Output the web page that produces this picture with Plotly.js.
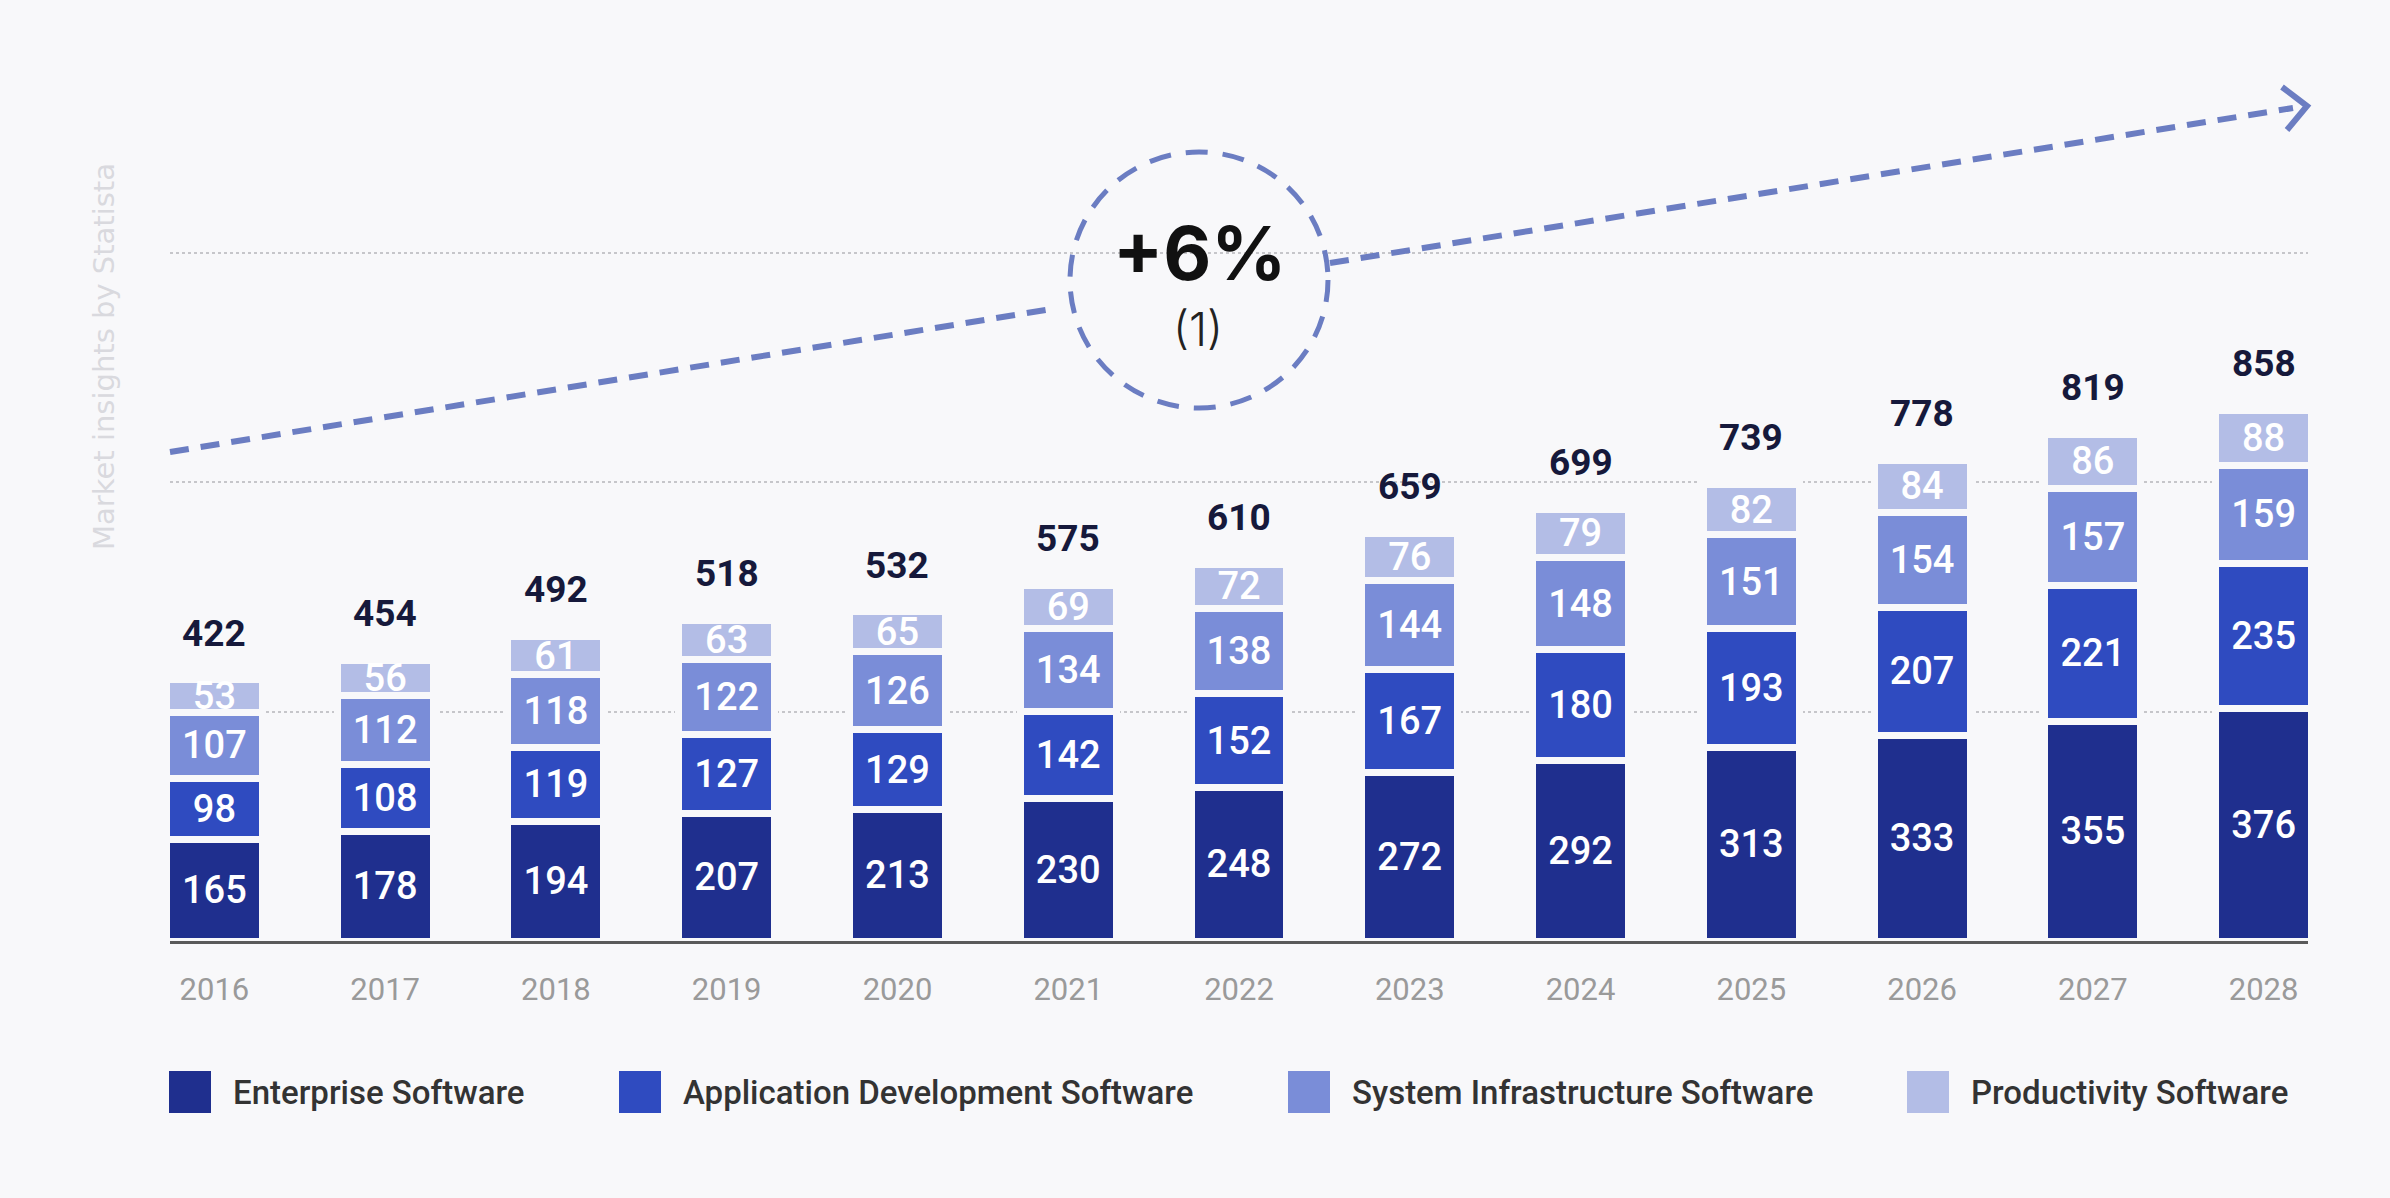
<!DOCTYPE html>
<html>
<head>
<meta charset="utf-8">
<script src="https://cdn.plot.ly/plotly-3.0.1.min.js"></script>
<style>
  html, body { margin: 0; padding: 0; background: #f8f8fa; }
  #chart { width: 2390px; height: 1198px; }
</style>
</head>
<body>
<div id="chart"></div>
<script>
// ---- data ----
const years = ["2016","2017","2018","2019","2020","2021","2022","2023","2024","2025","2026","2027","2028"];
const enterprise   = [165,178,194,207,213,230,248,272,292,313,333,355,376];
const appDev       = [ 98,108,119,127,129,142,152,167,180,193,207,221,235];
const sysInfra     = [107,112,118,122,126,134,138,144,148,151,154,157,159];
const productivity = [ 53, 56, 61, 63, 65, 69, 72, 76, 79, 82, 84, 86, 88];
const totals       = [422,454,492,518,532,575,610,659,699,739,778,819,858];
const seriesNames  = ["Enterprise Software","Application Development Software","System Infrastructure Software","Productivity Software"];
const gridValues   = [371, 742, 1113];
const cagrText     = "+6%";
const cagrNote     = "(1)";
const watermark    = "Market insights by Statista";

// ---- styles ----
const colors = ["#1f2f8e", "#2f4bc0", "#7a8dd8", "#b3bde6"];
const bg = "#f8f8fa";
const W = 2390, H = 1198;
const M = {l: 170, r: 82, t: 41, b: 257};
const plotW = W - M.l - M.r, plotH = H - M.t - M.b;
const px = x => (x - M.l) / plotW;
const py = y => (H - M.b - y) / plotH;

const seriesVals = [enterprise, appDev, sysInfra, productivity];
const traces = seriesVals.map((vals, i) => ({
  type: "bar",
  name: seriesNames[i],
  x: years,
  y: vals,
  text: vals.map(String),
  textposition: "inside",
  insidetextanchor: "middle",
  constraintext: "none",
  textangle: 0,
  textfont: {family: "Roboto", size: 38, color: "#ffffff", weight: 500},
  marker: {color: colors[i], line: {color: bg, width: 7}},
  hoverinfo: "skip",
  showlegend: false
}));

const annotations = [];
years.forEach((yr, i) => {
  annotations.push({
    x: i, y: totals[i], xref: "x", yref: "y",
    text: String(totals[i]), showarrow: false,
    xanchor: "center", yanchor: "middle", yshift: 47,
    font: {family: "Roboto", size: 37, color: "#16193b", weight: 700}
  });
});

annotations.push({
  x: px(1199), y: py(253), xref: "paper", yref: "paper",
  text: cagrText, showarrow: false, xanchor: "center", yanchor: "middle",
  font: {family: "Inter", size: 74, color: "#111111", weight: 700}
});
annotations.push({
  x: px(1198), y: py(329), xref: "paper", yref: "paper",
  text: cagrNote, showarrow: false, xanchor: "center", yanchor: "middle",
  font: {family: "Inter", size: 46, color: "#222222", weight: 300}
});
annotations.push({
  x: px(104), y: py(357), xref: "paper", yref: "paper",
  text: watermark, showarrow: false, textangle: -90,
  xanchor: "center", yanchor: "middle",
  font: {family: "DejaVu Sans", size: 29, color: "#d9d9de"}
});

const dashColor = "#6b7dc2";
const shapes = [
  {type: "line", xref: "paper", yref: "paper",
   x0: px(170), y0: py(452), x1: px(1052), y1: py(309),
   line: {color: dashColor, width: 6, dash: "19px,12px"}},
  {type: "line", xref: "paper", yref: "paper",
   x0: px(1330), y0: py(263), x1: px(2293), y1: py(108),
   line: {color: dashColor, width: 6, dash: "19px,12px"}},
  {type: "path", xref: "paper", yref: "paper",
   path: `M ${px(2282)} ${py(87)} L ${px(2307)} ${py(106)} L ${px(2287)} ${py(130)}`,
   line: {color: dashColor, width: 6}},
  {type: "circle", xref: "paper", yref: "paper",
   x0: px(1070), y0: py(408), x1: px(1328), y1: py(152),
   line: {color: dashColor, width: 5, dash: "22px,15px"}}
];

// custom legend (large square swatches)
const legendX = [169, 619, 1288, 1907];
const legendY = 1092, sw = 42;
seriesNames.forEach((nm, i) => {
  shapes.push({type: "rect", xref: "paper", yref: "paper",
    x0: px(legendX[i]), x1: px(legendX[i] + sw),
    y0: py(legendY + sw/2), y1: py(legendY - sw/2),
    fillcolor: colors[i], line: {width: 0}});
  annotations.push({
    x: px(legendX[i] + sw + 20), y: py(legendY), xref: "paper", yref: "paper",
    text: nm, showarrow: false, xanchor: "left", yanchor: "middle",
    font: {family: "Roboto", size: 33, color: "#333333", weight: 500}
  });
});

const layout = {
  width: W, height: H,
  margin: M,
  paper_bgcolor: bg, plot_bgcolor: bg,
  barmode: "stack",
  bargap: 0.438,
  showlegend: false,
  xaxis: {
    type: "category",
    range: [-0.26, 12.26],
    showgrid: false, zeroline: false,
    showline: true, linecolor: "#5a5a5a", linewidth: 3,
    ticks: "outside", ticklen: 19, tickcolor: "rgba(0,0,0,0)",
    tickfont: {family: "Roboto", size: 31, color: "#9a9a9a"},
    fixedrange: true
  },
  yaxis: {
    range: [0, plotH / 0.618],
    tickvals: gridValues,
    showticklabels: false,
    showgrid: true, gridcolor: "#c6c6ca", gridwidth: 2, griddash: "dot",
    zeroline: false, showline: false,
    fixedrange: true
  },
  shapes: shapes,
  annotations: annotations,
  hovermode: false
};

Plotly.newPlot("chart", traces, layout, {displayModeBar: false, staticPlot: true});
</script>
</body>
</html>
